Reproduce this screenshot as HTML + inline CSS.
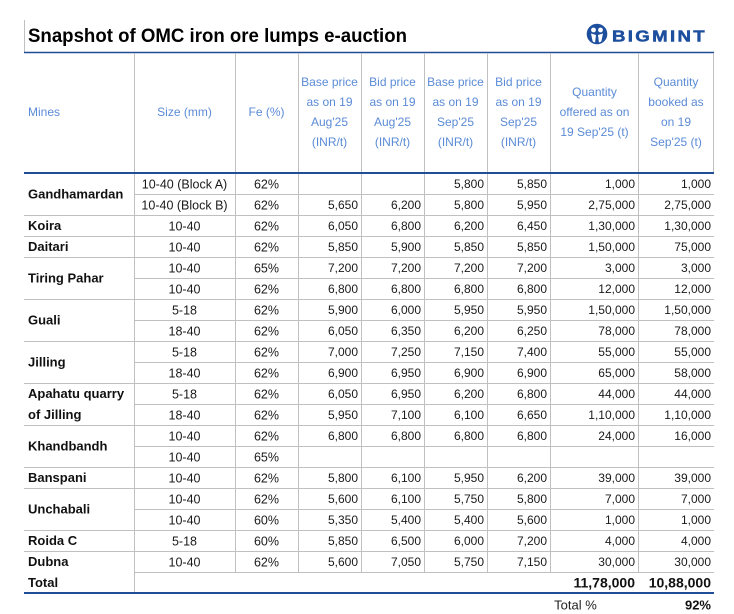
<!DOCTYPE html>
<html><head><meta charset="utf-8"><style>
html,body{margin:0;padding:0;background:#fff;}
svg{display:block;}
text{font-family:"Liberation Sans",sans-serif;}
.h{fill:#5b8bd6;font-size:12px;text-anchor:middle;}
.n{font-size:13px;font-weight:bold;fill:#111;}
.c{font-size:12.5px;fill:#1a1a1a;text-anchor:middle;}
.r{font-size:12px;fill:#1a1a1a;text-anchor:end;}
</style></head><body>
<svg width="734" height="614" viewBox="0 0 734 614" xmlns="http://www.w3.org/2000/svg">
<rect width="734" height="614" fill="#fff"/>
<!-- title -->
<line x1="24.5" y1="20" x2="24.5" y2="52" stroke="#c0c0c0" stroke-width="1"/>
<text x="28" y="42" font-size="19" font-weight="bold" fill="#000" textLength="379" lengthAdjust="spacingAndGlyphs">Snapshot of OMC iron ore lumps e-auction</text>
<!-- logo -->
<circle cx="597" cy="34" r="9.5" fill="#1d4f9e"/>
<circle cx="593.5" cy="30" r="2.4" fill="#fff"/>
<circle cx="600.5" cy="30" r="2.4" fill="#fff"/>
<path d="M591 33.5 L593 43 L595 43 L596 35 Z" fill="#fff"/>
<path d="M603 33.5 L601 43 L599 43 L598 35 Z" fill="#fff"/>
<circle cx="597" cy="34" r="9.5" fill="none" stroke="#1d4f9e" stroke-width="1.6"/>
<text x="612" y="41.5" font-size="16" font-weight="900" fill="#1d4f9e" letter-spacing="2" textLength="95" lengthAdjust="spacingAndGlyphs" stroke="#1d4f9e" stroke-width="0.5">BIGMINT</text>
<!-- top line -->
<line x1="24" y1="52.5" x2="714" y2="52.5" stroke="#1f4e96" stroke-width="1.5"/>
<!-- header verticals -->
<g stroke="#c0c0c0" stroke-width="1">
<line x1="134.5" y1="53" x2="134.5" y2="172"/>
<line x1="235.5" y1="53" x2="235.5" y2="172"/>
<line x1="298.5" y1="53" x2="298.5" y2="172"/>
<line x1="361.5" y1="53" x2="361.5" y2="172"/>
<line x1="424.5" y1="53" x2="424.5" y2="172"/>
<line x1="487.5" y1="53" x2="487.5" y2="172"/>
<line x1="550.5" y1="53" x2="550.5" y2="172"/>
<line x1="638.5" y1="53" x2="638.5" y2="172"/>
<line x1="713.5" y1="53" x2="713.5" y2="172"/>
</g>
<!-- header text -->
<text class="h" x="28" y="116" style="text-anchor:start">Mines</text>
<text class="h" x="184.5" y="116">Size (mm)</text>
<text class="h" x="266.5" y="116">Fe (%)</text>
<g class="h">
<text class="h" x="329.5" y="86">Base price</text><text class="h" x="329.5" y="106">as on 19</text><text class="h" x="329.5" y="126">Aug'25</text><text class="h" x="329.5" y="146">(INR/t)</text>
<text class="h" x="392.5" y="86">Bid price</text><text class="h" x="392.5" y="106">as on 19</text><text class="h" x="392.5" y="126">Aug'25</text><text class="h" x="392.5" y="146">(INR/t)</text>
<text class="h" x="455.5" y="86">Base price</text><text class="h" x="455.5" y="106">as on 19</text><text class="h" x="455.5" y="126">Sep'25</text><text class="h" x="455.5" y="146">(INR/t)</text>
<text class="h" x="518.5" y="86">Bid price</text><text class="h" x="518.5" y="106">as on 19</text><text class="h" x="518.5" y="126">Sep'25</text><text class="h" x="518.5" y="146">(INR/t)</text>
<text class="h" x="594.5" y="96">Quantity</text><text class="h" x="594.5" y="116">offered as on</text><text class="h" x="594.5" y="136">19 Sep'25 (t)</text>
<text class="h" x="676" y="86">Quantity</text><text class="h" x="676" y="106">booked as</text><text class="h" x="676" y="126">on 19</text><text class="h" x="676" y="146">Sep'25 (t)</text>
</g>
<!-- header bottom -->
<line x1="24" y1="173" x2="714" y2="173" stroke="#1f4e96" stroke-width="2"/>
<!-- data verticals -->
<g stroke="#c0c0c0" stroke-width="1">
<line x1="134.5" y1="174" x2="134.5" y2="592"/>
<line x1="235.5" y1="174" x2="235.5" y2="572"/>
<line x1="298.5" y1="174" x2="298.5" y2="572"/>
<line x1="361.5" y1="174" x2="361.5" y2="572"/>
<line x1="424.5" y1="174" x2="424.5" y2="572"/>
<line x1="487.5" y1="174" x2="487.5" y2="572"/>
<line x1="550.5" y1="174" x2="550.5" y2="572"/>
<line x1="638.5" y1="174" x2="638.5" y2="572"/>
</g>
<!-- horizontal row lines -->
<g stroke="#c0c0c0" stroke-width="1">
<line x1="134" y1="194.5" x2="714" y2="194.5"/>
<line x1="24" y1="215.5" x2="714" y2="215.5"/>
<line x1="24" y1="236.5" x2="714" y2="236.5"/>
<line x1="24" y1="257.5" x2="714" y2="257.5"/>
<line x1="134" y1="278.5" x2="714" y2="278.5"/>
<line x1="24" y1="299.5" x2="714" y2="299.5"/>
<line x1="134" y1="320.5" x2="714" y2="320.5"/>
<line x1="24" y1="341.5" x2="714" y2="341.5"/>
<line x1="134" y1="362.5" x2="714" y2="362.5"/>
<line x1="24" y1="383.5" x2="714" y2="383.5"/>
<line x1="134" y1="404.5" x2="714" y2="404.5"/>
<line x1="24" y1="425.5" x2="714" y2="425.5"/>
<line x1="134" y1="446.5" x2="714" y2="446.5"/>
<line x1="24" y1="467.5" x2="714" y2="467.5"/>
<line x1="24" y1="488.5" x2="714" y2="488.5"/>
<line x1="134" y1="509.5" x2="714" y2="509.5"/>
<line x1="24" y1="530.5" x2="714" y2="530.5"/>
<line x1="24" y1="551.5" x2="714" y2="551.5"/>
<line x1="134" y1="572.5" x2="714" y2="572.5"/>
</g>
<line x1="24" y1="593" x2="714" y2="593" stroke="#1f4e96" stroke-width="2"/>

<!-- mine names -->
<g class="n">
<text class="n" x="28" y="198.5">Gandhamardan</text>
<text class="n" x="28" y="230">Koira</text>
<text class="n" x="28" y="251">Daitari</text>
<text class="n" x="28" y="282.5">Tiring Pahar</text>
<text class="n" x="28" y="324.5">Guali</text>
<text class="n" x="28" y="366.5">Jilling</text>
<text class="n" x="28" y="398">Apahatu quarry</text>
<text class="n" x="28" y="419">of Jilling</text>
<text class="n" x="28" y="450.5">Khandbandh</text>
<text class="n" x="28" y="482">Banspani</text>
<text class="n" x="28" y="513.5">Unchabali</text>
<text class="n" x="28" y="545">Roida C</text>
<text class="n" x="28" y="566">Dubna</text>
<text class="n" x="28" y="587">Total</text>
</g>

<!-- size & fe -->
<g>
<text class="c" x="184.5" y="188.5">10-40 (Block A)</text><text class="c" x="266.5" y="188.5">62%</text>
<text class="c" x="184.5" y="209.5">10-40 (Block B)</text><text class="c" x="266.5" y="209.5">62%</text>
<text class="c" x="184.5" y="230.5">10-40</text><text class="c" x="266.5" y="230.5">62%</text>
<text class="c" x="184.5" y="251.5">10-40</text><text class="c" x="266.5" y="251.5">62%</text>
<text class="c" x="184.5" y="272.5">10-40</text><text class="c" x="266.5" y="272.5">65%</text>
<text class="c" x="184.5" y="293.5">10-40</text><text class="c" x="266.5" y="293.5">62%</text>
<text class="c" x="184.5" y="314.5">5-18</text><text class="c" x="266.5" y="314.5">62%</text>
<text class="c" x="184.5" y="335.5">18-40</text><text class="c" x="266.5" y="335.5">62%</text>
<text class="c" x="184.5" y="356.5">5-18</text><text class="c" x="266.5" y="356.5">62%</text>
<text class="c" x="184.5" y="377.5">18-40</text><text class="c" x="266.5" y="377.5">62%</text>
<text class="c" x="184.5" y="398.5">5-18</text><text class="c" x="266.5" y="398.5">62%</text>
<text class="c" x="184.5" y="419.5">18-40</text><text class="c" x="266.5" y="419.5">62%</text>
<text class="c" x="184.5" y="440.5">10-40</text><text class="c" x="266.5" y="440.5">62%</text>
<text class="c" x="184.5" y="461.5">10-40</text><text class="c" x="266.5" y="461.5">65%</text>
<text class="c" x="184.5" y="482.5">10-40</text><text class="c" x="266.5" y="482.5">62%</text>
<text class="c" x="184.5" y="503.5">10-40</text><text class="c" x="266.5" y="503.5">62%</text>
<text class="c" x="184.5" y="524.5">10-40</text><text class="c" x="266.5" y="524.5">60%</text>
<text class="c" x="184.5" y="545.5">5-18</text><text class="c" x="266.5" y="545.5">60%</text>
<text class="c" x="184.5" y="566.5">10-40</text><text class="c" x="266.5" y="566.5">62%</text>
</g>

<!-- numbers -->
<g>
<text class="r" x="484" y="188">5,800</text><text class="r" x="547" y="188">5,850</text><text class="r" x="635" y="188">1,000</text><text class="r" x="711" y="188">1,000</text>
<text class="r" x="358" y="209">5,650</text><text class="r" x="421" y="209">6,200</text><text class="r" x="484" y="209">5,800</text><text class="r" x="547" y="209">5,950</text><text class="r" x="635" y="209">2,75,000</text><text class="r" x="711" y="209">2,75,000</text>
<text class="r" x="358" y="230">6,050</text><text class="r" x="421" y="230">6,800</text><text class="r" x="484" y="230">6,200</text><text class="r" x="547" y="230">6,450</text><text class="r" x="635" y="230">1,30,000</text><text class="r" x="711" y="230">1,30,000</text>
<text class="r" x="358" y="251">5,850</text><text class="r" x="421" y="251">5,900</text><text class="r" x="484" y="251">5,850</text><text class="r" x="547" y="251">5,850</text><text class="r" x="635" y="251">1,50,000</text><text class="r" x="711" y="251">75,000</text>
<text class="r" x="358" y="272">7,200</text><text class="r" x="421" y="272">7,200</text><text class="r" x="484" y="272">7,200</text><text class="r" x="547" y="272">7,200</text><text class="r" x="635" y="272">3,000</text><text class="r" x="711" y="272">3,000</text>
<text class="r" x="358" y="293">6,800</text><text class="r" x="421" y="293">6,800</text><text class="r" x="484" y="293">6,800</text><text class="r" x="547" y="293">6,800</text><text class="r" x="635" y="293">12,000</text><text class="r" x="711" y="293">12,000</text>
<text class="r" x="358" y="314">5,900</text><text class="r" x="421" y="314">6,000</text><text class="r" x="484" y="314">5,950</text><text class="r" x="547" y="314">5,950</text><text class="r" x="635" y="314">1,50,000</text><text class="r" x="711" y="314">1,50,000</text>
<text class="r" x="358" y="335">6,050</text><text class="r" x="421" y="335">6,350</text><text class="r" x="484" y="335">6,200</text><text class="r" x="547" y="335">6,250</text><text class="r" x="635" y="335">78,000</text><text class="r" x="711" y="335">78,000</text>
<text class="r" x="358" y="356">7,000</text><text class="r" x="421" y="356">7,250</text><text class="r" x="484" y="356">7,150</text><text class="r" x="547" y="356">7,400</text><text class="r" x="635" y="356">55,000</text><text class="r" x="711" y="356">55,000</text>
<text class="r" x="358" y="377">6,900</text><text class="r" x="421" y="377">6,950</text><text class="r" x="484" y="377">6,900</text><text class="r" x="547" y="377">6,900</text><text class="r" x="635" y="377">65,000</text><text class="r" x="711" y="377">58,000</text>
<text class="r" x="358" y="398">6,050</text><text class="r" x="421" y="398">6,950</text><text class="r" x="484" y="398">6,200</text><text class="r" x="547" y="398">6,800</text><text class="r" x="635" y="398">44,000</text><text class="r" x="711" y="398">44,000</text>
<text class="r" x="358" y="419">5,950</text><text class="r" x="421" y="419">7,100</text><text class="r" x="484" y="419">6,100</text><text class="r" x="547" y="419">6,650</text><text class="r" x="635" y="419">1,10,000</text><text class="r" x="711" y="419">1,10,000</text>
<text class="r" x="358" y="440">6,800</text><text class="r" x="421" y="440">6,800</text><text class="r" x="484" y="440">6,800</text><text class="r" x="547" y="440">6,800</text><text class="r" x="635" y="440">24,000</text><text class="r" x="711" y="440">16,000</text>
<text class="r" x="358" y="482">5,800</text><text class="r" x="421" y="482">6,100</text><text class="r" x="484" y="482">5,950</text><text class="r" x="547" y="482">6,200</text><text class="r" x="635" y="482">39,000</text><text class="r" x="711" y="482">39,000</text>
<text class="r" x="358" y="503">5,600</text><text class="r" x="421" y="503">6,100</text><text class="r" x="484" y="503">5,750</text><text class="r" x="547" y="503">5,800</text><text class="r" x="635" y="503">7,000</text><text class="r" x="711" y="503">7,000</text>
<text class="r" x="358" y="524">5,350</text><text class="r" x="421" y="524">5,400</text><text class="r" x="484" y="524">5,400</text><text class="r" x="547" y="524">5,600</text><text class="r" x="635" y="524">1,000</text><text class="r" x="711" y="524">1,000</text>
<text class="r" x="358" y="545">5,850</text><text class="r" x="421" y="545">6,500</text><text class="r" x="484" y="545">6,000</text><text class="r" x="547" y="545">7,200</text><text class="r" x="635" y="545">4,000</text><text class="r" x="711" y="545">4,000</text>
<text class="r" x="358" y="566">5,600</text><text class="r" x="421" y="566">7,050</text><text class="r" x="484" y="566">5,750</text><text class="r" x="547" y="566">7,150</text><text class="r" x="635" y="566">30,000</text><text class="r" x="711" y="566">30,000</text>
</g>
<!-- totals -->
<text x="635" y="587.5" font-size="14" font-weight="bold" fill="#111" text-anchor="end">11,78,000</text>
<text x="711" y="587.5" font-size="14" font-weight="bold" fill="#111" text-anchor="end">10,88,000</text>
<text x="575.5" y="609.5" font-size="13" fill="#222" text-anchor="middle">Total %</text>
<text x="711" y="609.5" font-size="13" font-weight="bold" fill="#111" text-anchor="end">92%</text>
</svg>
</body></html>
